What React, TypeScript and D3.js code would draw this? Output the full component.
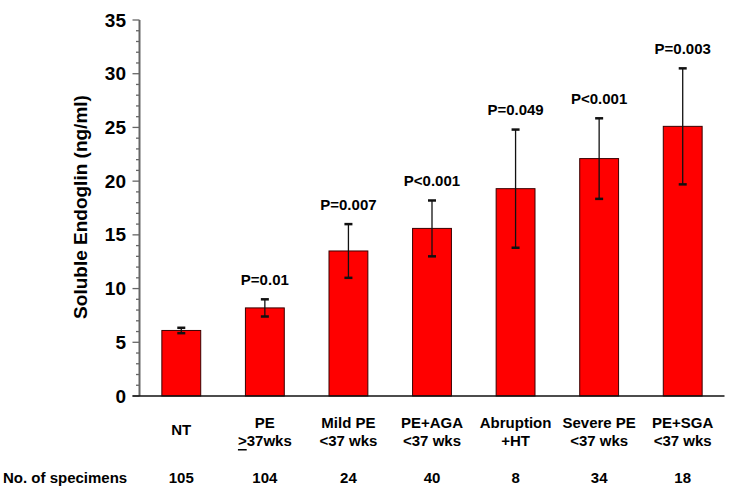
import React from "react";
import * as d3 from "d3";

const categories = ["NT", "PE ≥37wks", "Mild PE <37 wks", "PE+AGA <37 wks", "Abruption +HT", "Severe PE <37 wks", "PE+SGA <37 wks"];
const labelLine1 = ["NT", "PE", "Mild PE", "PE+AGA", "Abruption", "Severe PE", "PE+SGA"];
const labelLine2 = ["", ">37wks", "<37 wks", "<37 wks", "+HT", "<37 wks", "<37 wks"];
const means = [6.1, 8.2, 13.5, 15.6, 19.3, 22.1, 25.1];
const errors = [0.25, 0.8, 2.5, 2.6, 5.5, 3.75, 5.4];
const pLabels = ["", "P=0.01", "P=0.007", "P<0.001", "P=0.049", "P<0.001", "P=0.003"];
const specimens = [105, 104, 24, 40, 8, 34, 18];
const yTicks = [0, 5, 10, 15, 20, 25, 30, 35];
const yMinorTicks = d3.range(0, 36, 1);

const W = 729;
const H = 497;
const left = 139.5;
const right = 724.5;
const top = 20;
const bottom = 396;
const font = "Arial, 'Liberation Sans', sans-serif";

export default function App() {
  const x = d3.scaleBand<string>().domain(categories).range([left, right]).paddingInner(0.535).paddingOuter(0.2675);
  const y = d3.scaleLinear().domain([0, 35]).range([bottom, top]);
  const bw = x.bandwidth();
  return (
    <svg width={W} height={H} style={{ position: "absolute", left: 0, top: 0, background: "#fff" }} fontFamily={font}>
      {/* bars */}
      {categories.map((c, i) => (
        <rect key={c} x={x(c)!} y={y(means[i])} width={bw} height={y(0) - y(means[i])} fill="#ff0000" stroke="#3a0000" strokeWidth={1} />
      ))}
      {/* error bars */}
      {categories.map((c, i) => {
        const cx = x(c)! + bw / 2;
        const hi = y(means[i] + errors[i]);
        const lo = y(means[i] - errors[i]);
        return (
          <g key={"e" + c} stroke="#111">
            <line x1={cx} x2={cx} y1={hi} y2={lo} strokeWidth={1.3} />
            <line x1={cx - 4} x2={cx + 4} y1={hi} y2={hi} strokeWidth={2.5} />
            <line x1={cx - 4} x2={cx + 4} y1={lo} y2={lo} strokeWidth={2.5} />
          </g>
        );
      })}
      {/* p labels */}
      {categories.map((c, i) =>
        pLabels[i] ? (
          <text key={"p" + c} x={x(c)! + bw / 2} y={y(means[i] + errors[i]) - 20} textAnchor="middle" dominantBaseline="central" fontSize={15} fontWeight="bold" fill="#000">
            {pLabels[i]}
          </text>
        ) : null
      )}
      {/* y axis */}
      <line x1={left} x2={left} y1={top} y2={bottom} stroke="#666" strokeWidth={2} />
      {yMinorTicks.map((t) => (
        <line key={"m" + t} x1={left - (t % 5 === 0 ? 7 : 3.5)} x2={left} y1={y(t)} y2={y(t)} stroke="#666" strokeWidth={1.3} />
      ))}
      {yTicks.map((t) => (
        <text key={"t" + t} x={126} y={y(t)} textAnchor="end" dominantBaseline="central" fontSize={19} fontWeight="bold" fill="#000">
          {t}
        </text>
      ))}
      <text transform={`translate(80,207) rotate(-90)`} textAnchor="middle" dominantBaseline="central" fontSize={19} fontWeight="bold" fill="#000">
        Soluble Endoglin (ng/ml)
      </text>
      {/* x axis */}
      <line x1={left - 7} x2={right} y1={bottom} y2={bottom} stroke="#111" strokeWidth={1.5} />
      {/* category labels */}
      {categories.map((c, i) => {
        const cx = x(c)! + bw / 2;
        if (!labelLine2[i]) {
          return (
            <text key={"c" + c} x={cx} y={429} textAnchor="middle" dominantBaseline="central" fontSize={15} fontWeight="bold">
              {labelLine1[i]}
            </text>
          );
        }
        return (
          <g key={"c" + c}>
            <text x={cx} y={422} textAnchor="middle" dominantBaseline="central" fontSize={15} fontWeight="bold">
              {labelLine1[i]}
            </text>
            <text x={cx} y={440} textAnchor="middle" dominantBaseline="central" fontSize={15} fontWeight="bold">
              {labelLine2[i].startsWith(">") ? (
                <>
                  <tspan textDecoration="underline">{">"}</tspan>
                  {labelLine2[i].slice(1)}
                </>
              ) : (
                labelLine2[i]
              )}
            </text>
          </g>
        );
      })}
      {/* specimens row */}
      <text x={3} y={477} dominantBaseline="central" fontSize={15} fontWeight="bold">
        No. of specimens
      </text>
      {categories.map((c, i) => (
        <text key={"n" + c} x={x(c)! + bw / 2} y={477} textAnchor="middle" dominantBaseline="central" fontSize={15} fontWeight="bold">
          {specimens[i]}
        </text>
      ))}
    </svg>
  );
}
